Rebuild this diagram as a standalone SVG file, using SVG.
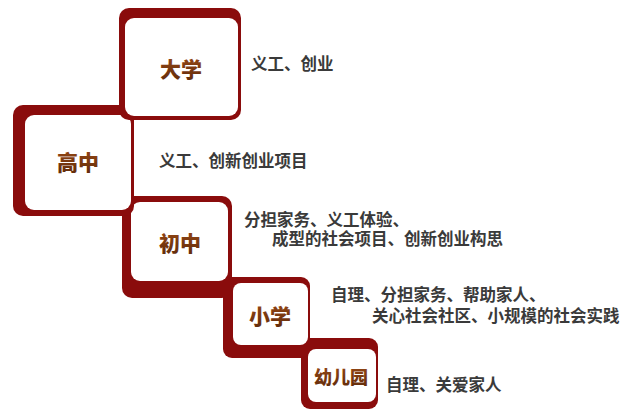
<svg xmlns="http://www.w3.org/2000/svg" width="640" height="416" viewBox="0 0 640 416">
<defs>
<linearGradient id="lblGrad" x1="0" y1="0" x2="0" y2="1">
<stop offset="0" stop-color="#9a4a16"/>
<stop offset="1" stop-color="#5e2a0a"/>
</linearGradient>
</defs>
<style>
.frame{fill:#8a0c0c}
.inner{fill:#ffffff}
.lbl{font-family:"Noto Sans CJK SC","Noto Sans CJK JP",sans-serif;font-weight:900;fill:url(#lblGrad);text-anchor:middle}
.desc{font-family:"Noto Sans CJK SC","Noto Sans CJK JP",sans-serif;font-weight:bold;font-size:16.5px;fill:#3a3a3a}
</style>
<rect width="640" height="416" fill="#ffffff"/>
<g id="node-kindergarten">
<rect class="frame" x="301" y="338" width="77" height="71" rx="9"/>
<rect class="inner" x="308" y="349" width="68" height="53" rx="8"/>
<text class="lbl" x="341" y="384" font-size="18">幼儿园</text>
</g>
<g id="node-primary">
<rect class="frame" x="223" y="277" width="87" height="81" rx="9"/>
<rect class="inner" x="233" y="283" width="75" height="62" rx="8"/>
<text class="lbl" x="270" y="324" font-size="21">小学</text>
</g>
<g id="node-junior">
<rect class="frame" x="122" y="196" width="110" height="102" rx="10"/>
<rect class="inner" x="131" y="202" width="97" height="79" rx="9"/>
<text class="lbl" x="180" y="251" font-size="21">初中</text>
</g>
<g id="node-senior">
<rect class="frame" x="13" y="105" width="121" height="111" rx="10"/>
<rect class="inner" x="25" y="115" width="106" height="95" rx="9"/>
<text class="lbl" x="78" y="170" font-size="21">高中</text>
</g>
<g id="node-university">
<rect class="frame" x="119" y="8" width="122" height="112" rx="10"/>
<rect class="inner" x="125" y="18" width="113" height="98" rx="9"/>
<text class="lbl" x="181" y="77" font-size="21">大学</text>
</g>
<g id="connectors"></g>
<g id="descriptions">
<text class="desc" x="251" y="70">义工、创业</text>
<text class="desc" x="159" y="167">义工、创新创业项目</text>
<text class="desc" x="244" y="226">分担家务、义工体验、</text>
<text class="desc" x="272" y="245">成型的社会项目、创新创业构思</text>
<text class="desc" x="331" y="301">自理、分担家务、帮助家人、</text>
<text class="desc" x="372" y="322">关心社会社区、小规模的社会实践</text>
<text class="desc" x="386" y="391">自理、关爱家人</text>
</g>
</svg>
